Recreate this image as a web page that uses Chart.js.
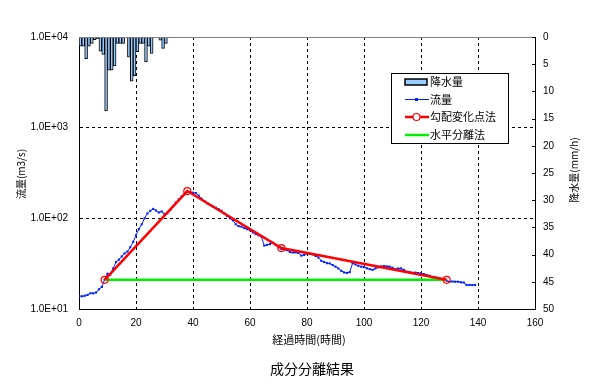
<!DOCTYPE html>
<html>
<head>
<meta charset="utf-8">
<script src="https://cdn.jsdelivr.net/npm/chart.js@4"></script>
<style>
  body { margin: 0; background: #fff; }
</style>
</head>
<body>
<canvas id="sepChart" width="590" height="390"></canvas>
<script>
// 降水量 (mm/h), hourly from t=0
const rainValues = [1.7, 1.7, 4.0, 1.7, 1.2, 0.5, 0.3, 2.6, 3.2, 13.6,
    6.1, 6.1, 5.3, 1.2, 1.2, 1.2, 0, 3.7, 8.1, 7.1,
    2.7, 1.2, 1.2, 4.6, 1.7, 3.0, 0, 0, 0.6, 2.1, 1.2];

// 流量 (m3/s), hourly from t=0
const flowValues = [13.9, 13.8, 14.0, 14.3, 14.9, 14.9, 15.2, 16.5, 17.5, 21.2,
    24.5, 24.0, 28, 33, 35, 38, 41, 43, 48, 55,
    65, 76, 86, 100, 113, 121, 127, 122, 116, 119,
    112, 114, 123, 136, 150, 162, 174, 186, 196, 194,
    192, 190, 178, 165, 155, 146, 140, 135, 131, 126,
    121, 113, 106, 100, 95, 86, 82, 81, 78, 76,
    74, 70, 67, 65, 63, 50, 51, 52, 54, 51,
    48, 46, 45, 44.5, 42.5, 42, 42, 41.5, 38.8, 39.5,
    41, 40.5, 40, 38.5, 37, 34, 33, 32, 31.8, 30.5,
    29.3, 28, 26.4, 25.3, 25.0, 25.5, 32, 31, 30, 29.3,
    29, 28.1, 27.5, 27, 28, 28.8, 29.5, 29.8, 29.5, 29.3,
    28.5, 27.4, 28, 28, 27, 25.8, 25.5, 25.1, 25.2, 24.9,
    24.8, 24.3, 23.7, 23.3, 22.4, 22.2, 21.6, 21.2, 21, 20.5,
    20, 20.1, 20, 20, 19.7, 19.6, 18.4, 18.4, 18.4, 18.4];

// 勾配変化点法 break points
const slopeX = [9, 38, 71, 129];
const slopeY = [21, 200, 47, 21];

// 水平分離法
const flatX = [9, 129];
const flatY = [21, 21];

const xTicks = [0, 20, 40, 60, 80, 100, 120, 140, 160];
const yTicks = [10, 100, 1000, 10000];
const rainTicks = [0, 5, 10, 15, 20, 25, 30, 35, 40, 45, 50];

const jpFont = "'Noto Sans CJK JP', sans-serif";

Chart.defaults.font.family = "'Liberation Sans', Arial, sans-serif";
Chart.defaults.font.size = 10;
Chart.defaults.color = '#000';

const decor = {
    id: 'decor',
    afterDatasetsDraw(chart) {
        const ctx = chart.ctx;
        const a = chart.chartArea;
        const y2 = chart.scales.y2;
        ctx.save();

        // top edge
        ctx.strokeStyle = '#808080';
        ctx.lineWidth = 1;
        ctx.beginPath();
        ctx.moveTo(a.left, a.top + 0.5);
        ctx.lineTo(a.right, a.top + 0.5);
        ctx.stroke();

        // inner ticks on rain axis
        ctx.strokeStyle = '#000';
        rainTicks.forEach(v => {
            const p = Math.round(y2.getPixelForValue(v)) + 0.5;
            ctx.beginPath();
            ctx.moveTo(a.right - 3, p);
            ctx.lineTo(a.right, p);
            ctx.stroke();
        });

        // legend
        const ds = chart.data.datasets;
        const lx = 391.5, ly = 73.5;
        ctx.fillStyle = '#fff';
        ctx.fillRect(lx, ly, 117, 70);
        ctx.strokeStyle = '#000';
        ctx.lineWidth = 1;
        ctx.strokeRect(lx, ly, 117, 70);

        const rows = [82, 99.5, 117, 135];
        ctx.font = '11px ' + jpFont;
        ctx.textBaseline = 'middle';
        ctx.textAlign = 'left';

        ctx.fillStyle = ds[0].backgroundColor;
        ctx.fillRect(405, 79, 22, 6);
        ctx.lineWidth = 1.5;
        ctx.strokeStyle = ds[0].borderColor;
        ctx.strokeRect(405, 79, 22, 6);

        [1, 2, 3].forEach((k, i) => {
            const y = rows[i + 1];
            ctx.strokeStyle = ds[k].borderColor;
            ctx.lineWidth = ds[k].borderWidth;
            ctx.beginPath();
            ctx.moveTo(405, y);
            ctx.lineTo(429, y);
            ctx.stroke();
        });
        ctx.fillStyle = ds[1].borderColor;
        ctx.fillRect(415, rows[1] - 1.5, 3, 3);
        ctx.fillStyle = '#fff';
        ctx.strokeStyle = ds[2].borderColor;
        ctx.lineWidth = 1.2;
        ctx.beginPath();
        ctx.arc(416.5, rows[2], 3.5, 0, Math.PI * 2);
        ctx.fill();
        ctx.stroke();

        ctx.fillStyle = '#000';
        ds.forEach((d, i) => ctx.fillText(d.label, 430, rows[i]));

        // titles
        ctx.textAlign = 'center';
        ctx.font = '11px ' + jpFont;
        ctx.fillText('経過時間(時間)', 309, 340);
        ctx.font = '14px ' + jpFont;
        ctx.fillText('成分分離結果', 312, 369);

        ctx.font = '10px ' + jpFont;
        ctx.save();
        ctx.translate(21, 174);
        ctx.rotate(-Math.PI / 2);
        ctx.fillText('流量(m3/s)', 0, 0);
        ctx.restore();

        ctx.save();
        ctx.translate(574, 170);
        ctx.rotate(-Math.PI / 2);
        ctx.fillText('降水量(mm/h)', 0, 0);
        ctx.restore();

        ctx.restore();
    }
};

new Chart('sepChart', {
    type: 'line',
    data: {
        datasets: [
            {
                type: 'bar',
                label: '降水量',
                yAxisID: 'y2',
                data: rainValues.map((v, i) => ({ x: i + 0.5, y: v })),
                backgroundColor: '#99ccff',
                borderColor: '#000',
                borderWidth: 1,
                barPercentage: 1,
                categoryPercentage: 1,
                order: 4
            },
            {
                label: '流量',
                yAxisID: 'y',
                data: flowValues.map((v, i) => ({ x: i, y: v })),
                borderColor: '#0022ff',
                backgroundColor: '#0022ff',
                borderWidth: 1,
                pointStyle: 'rect',
                pointRadius: 1.5,
                pointBorderWidth: 0,
                tension: 0,
                order: 3
            },
            {
                label: '勾配変化点法',
                yAxisID: 'y',
                data: slopeX.map((x, i) => ({ x: x, y: slopeY[i] })),
                borderColor: '#ff0000',
                backgroundColor: '#ffffff',
                borderWidth: 2.5,
                pointRadius: 3.5,
                pointBorderWidth: 1.2,
                pointBackgroundColor: 'rgba(255,255,255,0)',
                tension: 0,
                order: 1
            },
            {
                label: '水平分離法',
                yAxisID: 'y',
                data: flatX.map((x, i) => ({ x: x, y: flatY[i] })),
                borderColor: '#00ee00',
                borderWidth: 2.5,
                pointRadius: 0,
                order: 2
            }
        ]
    },
    options: {
        responsive: false,
        animation: false,
        layout: { padding: { top: 37, left: 0, right: 0, bottom: 0 } },
        plugins: {
            legend: { display: false },
            title: { display: false },
            tooltip: { enabled: false }
        },
        scales: {
            x: {
                type: 'linear',
                min: 0,
                max: 160,
                offset: false,
                afterBuildTicks: s => { s.ticks = xTicks.map(v => ({ value: v })); },
                afterFit: s => { s.height = 81; },
                ticks: { padding: 8, maxRotation: 0 },
                grid: {
                    drawTicks: false,
                    offset: false,
                    color: c => (c.tick && (c.tick.value === 0 || c.tick.value === 160)) ? 'rgba(0,0,0,0)' : '#000'
                },
                border: { display: true, color: '#000', width: 1, dash: [3, 3] }
            },
            y: {
                type: 'logarithmic',
                position: 'left',
                min: 10,
                max: 10000,
                afterBuildTicks: s => { s.ticks = yTicks.map(v => ({ value: v })); },
                afterFit: s => { s.width = 79; },
                ticks: {
                    padding: 11,
                    callback: v => '1.0E+' + String(Math.round(Math.log10(v))).padStart(2, '0')
                },
                grid: {
                    drawTicks: false,
                    color: c => (c.tick && (c.tick.value === 100 || c.tick.value === 1000)) ? '#000' : 'rgba(0,0,0,0)'
                },
                border: { display: true, color: '#000', width: 1, dash: [3, 3] }
            },
            y2: {
                type: 'linear',
                position: 'right',
                reverse: true,
                min: 0,
                max: 50,
                afterBuildTicks: s => { s.ticks = rainTicks.map(v => ({ value: v })); },
                afterFit: s => { s.width = 55; },
                ticks: { padding: 8 },
                grid: { drawOnChartArea: false, drawTicks: false },
                border: { display: true, color: '#000', width: 1 }
            }
        }
    },
    plugins: [decor]
});
</script>
</body>
</html>
